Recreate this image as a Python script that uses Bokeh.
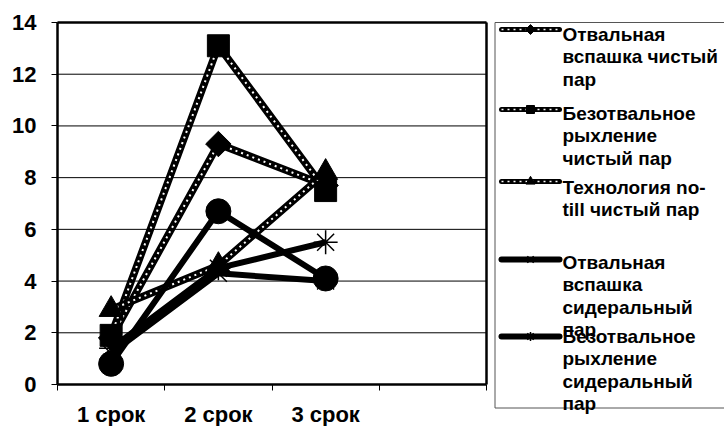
import math
from bokeh.plotting import figure
from bokeh.models import Range1d, FixedTicker
from bokeh.embed import file_html
from bokeh.resources import INLINE
from bokeh.core.properties import value

# ---- data ----
categories = ["1 срок", "2 срок", "3 срок"]
otv_chist = [1.8, 9.3, 7.7]      # Отвальная вспашка чистый пар
bezotv_chist = [1.9, 13.1, 7.5]  # Безотвальное рыхление чистый пар
notill_chist = [2.9, 4.6, 8.2]   # Технология no-till чистый пар
otv_sider = [1.2, 4.3, 4.0]      # Отвальная вспашка сидеральный пар
bezotv_sider = [1.4, 4.5, 5.5]   # Безотвальное рыхление сидеральный пар
notill_sider = [0.8, 6.7, 4.1]   # (не показано в легенде)
y_ticks = [0, 2, 4, 6, 8, 10, 12, 14]
legend_labels = [
    ["Отвальная", "вспашка чистый", "пар"],
    ["Безотвальное", "рыхление", "чистый пар"],
    ["Технология no-", "till чистый пар"],
    ["Отвальная", "вспашка", "сидеральный", "пар"],
    ["Безотвальное", "рыхление", "сидеральный", "пар"],
]

FONT = "Liberation Sans"
W, H = 724, 426
# plot-area placement in pixels (layout)
PL, PR, PT, PB = 57, 486, 22, 384
XMAX = len(categories) + 1
YMAX = y_ticks[-1]
xs = [i + 0.5 for i in range(len(categories))]

sx = (PR - PL) / XMAX
sy = (PB - PT) / YMAX
p = figure(width=W, height=H, output_backend="svg", toolbar_location=None,
           x_range=Range1d(-PL / sx, XMAX + (W - PR) / sx),
           y_range=Range1d(-(H - PB) / sy, YMAX + PT / sy),
           min_border=0)
p.extra_x_ranges = {"px": Range1d(0, W)}
p.extra_y_ranges = {"px": Range1d(H, 0)}
p.background_fill_color = "white"
p.border_fill_color = "white"
p.outline_line_color = None
p.xgrid.grid_line_color = None
p.ygrid.grid_line_color = None

# horizontal gridlines limited to the plot area
gy = y_ticks[1:]
p.segment(x0=[0] * len(gy), y0=gy, x1=[XMAX] * len(gy), y1=gy,
          line_color="black", line_width=1)
# plot-area border (top and right)
p.segment(x0=[0, XMAX], y0=[YMAX, 0], x1=[XMAX, XMAX], y1=[YMAX, YMAX],
          line_color="black", line_width=2.5)

p.yaxis.fixed_location = 0
p.yaxis.bounds = (0, YMAX)
p.yaxis.ticker = FixedTicker(ticks=y_ticks)
p.yaxis.axis_line_width = 2.5
p.yaxis.major_tick_out = 6
p.yaxis.major_tick_in = 0
p.yaxis.minor_tick_line_color = None
p.yaxis.major_label_text_font = FONT
p.yaxis.major_label_text_font_style = "bold"
p.yaxis.major_label_text_font_size = "22px"
p.yaxis.major_label_standoff = 15
p.yaxis.major_label_text_color = "black"

p.xaxis.fixed_location = 0
p.xaxis.bounds = (0, XMAX)
p.xaxis.ticker = FixedTicker(ticks=xs, minor_ticks=list(range(XMAX + 1)))
p.xaxis.major_label_overrides = {x: c for x, c in zip(xs, categories)}
p.xaxis.axis_line_width = 2.5
p.xaxis.major_tick_line_color = None
p.xaxis.minor_tick_line_color = "black"
p.xaxis.minor_tick_out = 6
p.xaxis.minor_tick_in = 0
p.xaxis.major_label_text_font = FONT
p.xaxis.major_label_text_font_style = "bold"
p.xaxis.major_label_text_font_size = "22px"
p.xaxis.major_label_text_color = "black"
p.xaxis.major_label_standoff = 11

dotted_series = [(otv_chist, "diamond"), (bezotv_chist, "square"), (notill_chist, "triangle")]
solid_series = [(otv_sider, "x"), (bezotv_sider, "asterisk"), (notill_sider, "circle")]

def marker(x, y, kind, big=True, **kw):
    if kind == "diamond":
        p.scatter(x, y, marker="square", angle=math.pi / 4, size=18 if big else 7,
                  fill_color="black", line_color="black", **kw)
    elif kind == "square":
        p.scatter(x, y, marker="square", size=22 if big else 8, fill_color="black", line_color="black", **kw)
    elif kind == "triangle":
        p.scatter(x, y, marker="triangle", size=24 if big else 9, fill_color="black", line_color="black", **kw)
    elif kind == "circle":
        p.scatter(x, y, marker="circle", size=25 if big else 8, fill_color="black", line_color="black", **kw)
    elif kind == "x":
        p.scatter(x, y, marker="x", size=24 if big else 9, line_color="black", line_width=1.5, **kw)
    elif kind == "asterisk":
        p.scatter(x, y, marker="asterisk", size=24 if big else 9, line_color="black", line_width=1.5, **kw)

for vals, kind in dotted_series:
    p.line(xs, vals, line_color="black", line_width=7.5, line_join="miter")
    p.line(xs, vals, line_color="white", line_width=2, line_dash="2 4")
    marker(xs, vals, kind)

for vals, kind in solid_series:
    p.line(xs, vals, line_color="black", line_width=6, line_join="round")
    marker(xs, vals, kind)

# ---- legend (pixel coordinates via extra ranges) ----
PX = dict(x_range_name="px", y_range_name="px")
p.quad(left=[494.5], right=[W + 5], top=[22], bottom=[407.5], fill_color=None,
       line_color="#555555", line_width=1, **PX)

item_middle = [33.5, 112.5, 186.5, 261.5, 335.5]
item_symbol = [29, 109, 181, 259, 336]
line_h = 22.6
kinds = ["diamond", "square", "triangle", "x", "asterisk"]
for i, (labels, kind, y0, syy) in enumerate(zip(legend_labels, kinds, item_middle, item_symbol)):
    if i < 3:
        p.line([501, 559], [syy, syy], line_color="black", line_width=5, line_cap="round", **PX)
        p.line([501, 559], [syy, syy], line_color="white", line_width=1.5, line_dash="2 4", **PX)
    else:
        p.line([501, 559], [syy, syy], line_color="black", line_width=6, line_cap="round", **PX)
    marker([530], [syy], kind, big=False, **PX)
    ty = [y0 + k * line_h for k in range(len(labels))]
    p.text(x=[562] * len(labels), y=ty, text=labels, text_font=value(FONT),
           text_font_style="bold", text_font_size="19px", text_baseline="middle",
           text_align="left", text_color="black", **PX)

open("out.html", "w").write(file_html(p, INLINE))
